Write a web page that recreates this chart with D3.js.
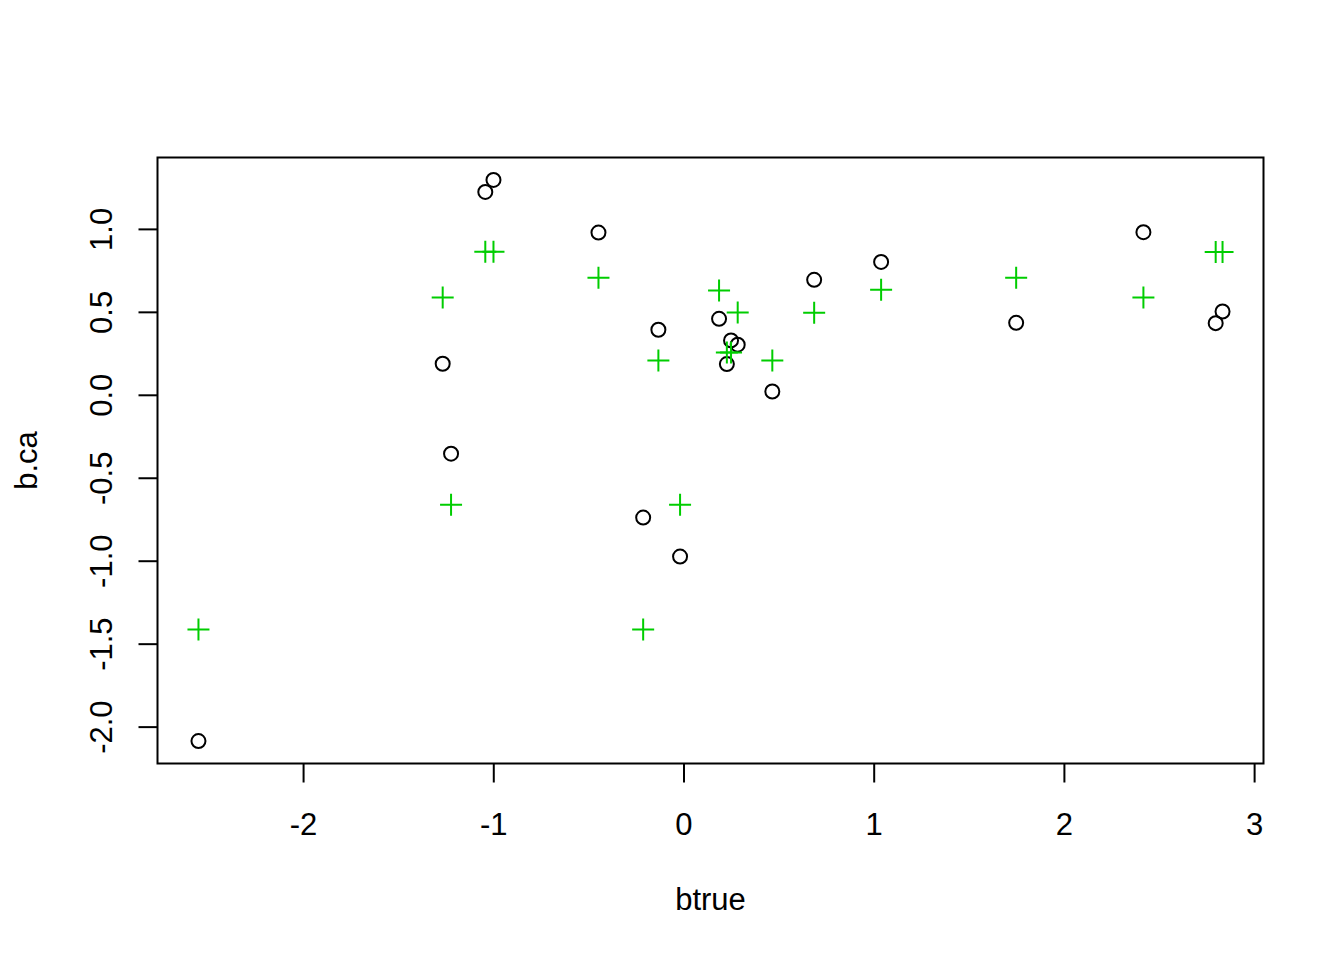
<!DOCTYPE html>
<html>
<head>
<meta charset="utf-8">
<script src="https://cdn.jsdelivr.net/npm/d3@7"></script>
<style>
html,body{margin:0;padding:0;background:#fff;}
svg{display:block;}
text{font-family:"Liberation Sans", Arial, Helvetica, sans-serif;}
</style>
</head>
<body>
<script>
// Data
const btrue = [-2.550, -1.042, -0.999, -0.447, -1.266, -1.222, -0.132, -0.212, -0.018, 0.187,
               0.250, 0.285, 0.228, 0.467, 0.687, 1.039, 1.749, 2.418, 2.798, 2.834];
const bca = [-2.087, 1.223, 1.295, 0.978, 0.187, -0.355, 0.392, -0.740, -0.975, 0.458,
             0.328, 0.302, 0.185, 0.020, 0.693, 0.801, 0.434, 0.980, 0.432, 0.502];
const bfit = [-1.414, 0.862, 0.862, 0.705, 0.587, -0.662, 0.207, -1.414, -0.662, 0.629,
              0.255, 0.496, 0.255, 0.207, 0.494, 0.633, 0.705, 0.587, 0.860, 0.860];
const xTicks = [-2, -1, 0, 1, 2, 3];
const yTicks = [-2.0, -1.5, -1.0, -0.5, 0.0, 0.5, 1.0];
const xLabel = "btrue";
const yLabel = "b.ca";

const W = 1344, H = 960;
const L = 157.5, R = 1263.5, T = 157.5, B = 763.5;
const FS = 31;

function padExt(arr){
  const e = d3.extent(arr); const p = (e[1]-e[0])*0.04;
  return [e[0]-p, e[1]+p];
}
const x = d3.scaleLinear().domain(padExt(btrue)).range([L, R]);
const y = d3.scaleLinear().domain(padExt(bca)).range([B, T]);

const svg = d3.select("body").append("svg").attr("width", W).attr("height", H);

const fmtX = d => String(d);
const fmtY = d => d.toFixed(1);

// x axis
const gx = svg.append("g").attr("transform", `translate(0,${B})`)
  .call(d3.axisBottom(x).tickValues(xTicks).tickSize(19).tickSizeOuter(0).tickFormat(fmtX));
gx.select(".domain").remove();
gx.selectAll(".tick line").attr("stroke", "#000").attr("stroke-width", 2);
gx.selectAll(".tick text").attr("dy", null).attr("y", 71.5)
  .attr("font-size", FS).attr("fill", "#000").attr("font-family", "Liberation Sans, Arial, sans-serif");

// y axis
const gy = svg.append("g").attr("transform", `translate(${L},0)`)
  .call(d3.axisLeft(y).tickValues(yTicks).tickSize(19).tickSizeOuter(0).tickFormat(fmtY));
gy.select(".domain").remove();
gy.selectAll(".tick line").attr("stroke", "#000").attr("stroke-width", 2);
gy.selectAll(".tick text")
  .attr("x", null).attr("dy", null).attr("y", null)
  .attr("text-anchor", "middle")
  .attr("transform", "translate(-45.5,0) rotate(-90)")
  .attr("font-size", FS).attr("fill", "#000").attr("font-family", "Liberation Sans, Arial, sans-serif");

// box
svg.append("rect").attr("x", L).attr("y", T).attr("width", R-L).attr("height", B-T)
  .attr("fill", "none").attr("stroke", "#000").attr("stroke-width", 2);

// axis titles
svg.append("text").attr("x", (L+R)/2).attr("y", 910).attr("text-anchor", "middle")
  .attr("font-size", FS).attr("fill", "#000").text(xLabel);
svg.append("text").attr("transform", `translate(36.5,${(T+B)/2}) rotate(-90)`)
  .attr("text-anchor", "middle").attr("font-size", FS).attr("fill", "#000").text(yLabel);

// circles
svg.append("g").selectAll("circle").data(btrue.map((d,i)=>[d,bca[i]])).join("circle")
  .attr("cx", d => x(d[0])).attr("cy", d => y(d[1])).attr("r", 7)
  .attr("fill", "none").attr("stroke", "#000").attr("stroke-width", 2);

// pluses
const s = 11;
svg.append("g").selectAll("path").data(btrue.map((d,i)=>[d,bfit[i]])).join("path")
  .attr("d", d => { const cx = x(d[0]), cy = y(d[1]);
    return `M${cx-s},${cy}H${cx+s}M${cx},${cy-s}V${cy+s}`; })
  .attr("fill", "none").attr("stroke", "#00cd00").attr("stroke-width", 2);
</script>
</body>
</html>
